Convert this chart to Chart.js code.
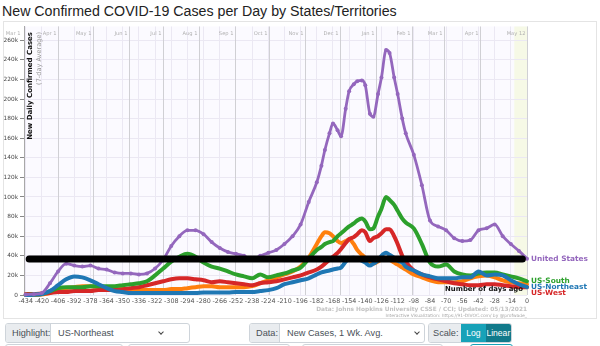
<!DOCTYPE html>
<html><head><meta charset="utf-8">
<script src="https://cdn.jsdelivr.net/npm/chart.js@4.4.1/dist/chart.umd.min.js"></script>
<style>
html,body{margin:0;padding:0;background:#fff;width:600px;height:346px;overflow:hidden;font-family:"Liberation Sans",Arial,sans-serif;}
#title{position:absolute;left:2px;top:4px;font-size:14.2px;line-height:14.2px;color:#222;white-space:nowrap;}
#box{position:absolute;left:3px;top:21px;width:594px;height:298px;border:1px solid #e4e4e4;box-sizing:border-box;}
#wrap{position:absolute;left:0;top:21px;width:600px;height:298px;}
.grp{position:absolute;top:323px;height:20px;border:1px solid #ced4da;border-radius:3px;display:flex;font-size:9.2px;color:#495057;overflow:hidden;box-sizing:border-box;background:#fff;}
.lbl{background:#e9ecef;border-right:1px solid #ced4da;line-height:18px;padding-left:6px;box-sizing:border-box;white-space:nowrap;}
.sel{position:relative;flex:1;line-height:18px;padding-left:7px;white-space:nowrap;}
.chev{position:absolute;top:6px;width:3px;height:3px;border-right:1px solid #444;border-bottom:1px solid #444;transform:rotate(45deg);}
.btn{line-height:18px;color:#fff;text-align:center;box-sizing:border-box;font-size:8.6px;}
.row2{position:absolute;top:344px;height:20px;border:1px solid #ced4da;border-radius:3px;box-sizing:border-box;}
</style></head>
<body>
<div id="title">New Confirmed COVID-19 Cases per Day by States/Territories</div>
<div id="box"></div>
<div id="wrap"><canvas id="c" width="600" height="298"></canvas></div>

<div class="grp" style="left:5px;width:185px;">
  <div class="lbl" style="width:45px">Highlight:</div>
  <div class="sel">US-Northeast<span class="chev" style="right:26px"></span></div>
</div>
<div class="grp" style="left:249px;width:176px;">
  <div class="lbl" style="width:30px">Data:</div>
  <div class="sel">New Cases, 1 Wk. Avg.<span class="chev" style="right:5px"></span></div>
</div>
<div class="grp" style="left:428px;width:84px;">
  <div class="lbl" style="width:33px;border-right:none;padding-left:4px">Scale:</div>
  <div class="btn" style="width:25px;background:#17a2b8">Log</div>
  <div class="btn" style="width:26px;background:#117a8b">Linear</div>
</div>
<div class="row2" style="left:5px;width:118px"></div>
<div class="row2" style="left:128px;width:162px"></div>
<div class="row2" style="left:302px;width:141px"></div>
<div class="row2" style="left:470px;width:43px;border-color:#17a2b8"></div>

<script>
// Days before 05/12/2021 (0 = most recent day)
const days = [-434,-427,-420,-413,-406,-399,-392,-385,-378,-371,-364,-357,-350,-343,-336,-329,-322,-315,-308,-301,-294,-287,-280,-273,-266,-259,-252,-245,-238,-231,-224,-217,-210,-203,-196,-189,-182,
  -178,-175,-171,-168,-164,-161,-157,-154,-150,-147,-143,-140,-136,-133,-129,-126,-122,-119,-115,-112,-108,-105,
  -98,-91,-84,-77,-70,-63,-56,-49,-42,-35,-28,-21,-14,-7,0];

// New cases per day, 7-day average, in thousands
const unitedStates = [0.5,0.8,2,12,24,32,30,29,30,27,26,23,22,22,21,22,27,36,50,60,66,66,62,54,48,44,42,40,36,40,43,46,52,60,72,95,115,
  132,148,165,175,168,162,190,208,215,218,219,214,185,182,205,222,250,247,222,205,180,165,
  143,112,76,70,66,58,55,56,66,68,72,60,52,45,37];
const usSouth = [0.3,0.5,1,4,7,8,8,8,9,9,9,9,10,11,12,14,20,27,34,39,42,39,33,29,27,24,21,19,17,21,18,20,22,25,28,37,46,
  49,52,54,55,60,63,67,70,73,76,78,75,67,68,80,88,100,97,92,86,78,74,
  68,52,33,29,31,24,21,20,22,23,23,21,19,17,14];
const usNortheast = [0,0.3,1,4,10,16,19,18,15,11,7,4,3,2,2,2,2,2,2,2,2,2,2.5,2.5,2.5,2.5,3,3,3,4,5,7,11,13,15,17,21,
  23,24,25,26,27,28,34,37,38,37,35,33,30,32,35,40,43,41,38,35,33,29,
  25,21,19,17,17,17,18,18,24,20,21,20,15,11,8];
const usWest = [1,1,1.5,2,3,3,4,4,4,5,5,5,6,7,8,10,12,14,16,17,17,16,15,13,14,13,12,11,10,12,13,14,16,18,20,23,26,
  29,32,36,39,43,47,53,57,59,62,66,64,55,58,60,63,67,67,60,52,40,34,
  25,21,18,16,14,12,11,10,10,11,11,10,9,8,8];
const usMidwest = [0,0,0.5,2,5,7,8,9,9,8,7,7,6,6,5,5,5,5,6,6,7,8,9,9,8,8,8,8,9,12,15,18,21,24,29,38,52,
  60,64,63,60,55,53,55,57,52,46,41,38,34,32,34,37,38,36,33,31,28,26,
  21,18,15,13,13,13,14,17,19,20,18,15,13,12,11];

// Horizontal marker line
const markerDays = [-431, -4];
const markerValues = [36.8, 36.8];

// Axis ticks / labels
const xTicks = [-434,-420,-406,-392,-378,-364,-350,-336,-322,-308,-294,-280,-266,-252,-238,-224,-210,-196,-182,-168,-154,-140,-126,-112,-98,-84,-70,-56,-42,-28,-14,0];
const yTicks = [0,20,40,60,80,100,120,140,160,180,200,220,240,260];
const monthDays = [-437,-406,-376,-345,-315,-284,-253,-223,-192,-162,-131,-100,-72,-41,0];
const monthLabels = ['Mar 1','Apr 1','May 1','Jun 1','Jul 1','Aug 1','Sep 1','Oct 1','Nov 1','Dec 1','Jan 1','Feb 1','Mar 1','Apr 1','May 12'];
const incompleteDays = [-11, 0];

const seriesNames = ['United States','US-South','US-Northeast','US-West'];
const seriesColors = {'United States':'#9467bd','US-South':'#2ca02c','US-Northeast':'#1f77b4','US-West':'#d62728','US-Midwest':'#ff7f0e'};

// fit title width
(function(){
  const t=document.getElementById('title');
  const c=document.createElement('canvas').getContext('2d');
  c.font='100px "Liberation Sans"';
  const w=c.measureText(t.textContent).width;
  const fs=100*395/w;
  t.style.fontSize=fs+'px';t.style.lineHeight=fs+'px';
  t.style.top=(16.5-fs*0.85)+'px';
})();

const pts = (xs, ys) => xs.map((d,i)=>({x:d,y:ys[i]}));
const FAM = '"DejaVu Sans"';
function fitSize(ctx, text, weight, width){
  ctx.font = weight+' 100px '+FAM;
  return 100*width/ctx.measureText(text).width;
}

const deco = {
  id:'deco',
  beforeDraw(chart){
    const {ctx, chartArea:a, scales:{x}} = chart;
    ctx.save();
    ctx.fillStyle='#fbfaff';
    ctx.fillRect(a.left,a.top,a.right-a.left,a.bottom-a.top);
    const x0=x.getPixelForValue(incompleteDays[0]), x1=x.getPixelForValue(incompleteDays[1]);
    ctx.fillStyle='#f6f9e6';
    ctx.fillRect(x0,a.top,x1-x0,a.bottom-a.top);
    ctx.restore();
  },
  beforeDatasetsDraw(chart){
    const {ctx, chartArea:a, scales:{x}} = chart;
    ctx.save();
    const fs = fitSize(ctx,'Aug 1','normal',15);
    ctx.font = 'normal '+fs+'px '+FAM;
    ctx.textAlign='right'; ctx.textBaseline='middle';
    monthDays.forEach((d,i)=>{
      const px = Math.round(x.getPixelForValue(d))+0.5;
      if(px>=a.left-1){
        ctx.strokeStyle='#d0d0d4'; ctx.lineWidth=1;
        ctx.beginPath(); ctx.moveTo(px,a.top); ctx.lineTo(px,a.bottom); ctx.stroke();
      }
      ctx.fillStyle='#b0b0b0';
      ctx.fillText(monthLabels[i], px-2, a.top+7);
    });
    ctx.restore();
  },
  afterDatasetsDraw(chart){
    const {ctx, chartArea:a, scales:{x,y}} = chart;
    ctx.save();
    // y-axis title inside plot
    let fs = fitSize(ctx,'New Daily Confirmed Cases','bold',108);
    ctx.translate(30, 11); ctx.rotate(-Math.PI/2);
    ctx.font='bold '+fs+'px '+FAM; ctx.fillStyle='#111';
    ctx.textAlign='right'; ctx.textBaseline='middle';
    ctx.fillText('New Daily Confirmed Cases',0,0);
    fs = fitSize(ctx,'(7-day Average)','normal',53);
    ctx.font='normal '+fs+'px '+FAM; ctx.fillStyle='#999';
    ctx.fillText('(7-day Average)',0,9.5);
    ctx.restore();

    ctx.save();
    // end labels
    const finals = [unitedStates, usSouth, usNortheast, usWest].map((arr,i)=>({t:seriesNames[i], py:y.getPixelForValue(arr[arr.length-1])}));
    finals.sort((p,q)=>p.py-q.py);
    for(let i=1;i<finals.length;i++){ if(finals[i].py<finals[i-1].py+5.8) finals[i].py=finals[i-1].py+5.8; }
    fs = fitSize(ctx,'United States','bold',57);
    ctx.font='bold '+fs+'px '+FAM; ctx.textAlign='left'; ctx.textBaseline='middle';
    finals.forEach(f=>{ ctx.fillStyle=seriesColors[f.t]; ctx.fillText(f.t, a.right+4, f.py); });

    // axis caption
    fs = fitSize(ctx,'Number of days ago','bold',78);
    ctx.font='bold '+fs+'px '+FAM; ctx.fillStyle='#111'; ctx.textAlign='right';
    ctx.fillText('Number of days ago', a.right-4, a.bottom-6);

    // footer
    fs = fitSize(ctx,'Data: Johns Hopkins University CSSE / CCI; Updated: 05/13/2021','bold',211);
    ctx.font='bold '+fs+'px '+FAM; ctx.fillStyle='#c2c2c2';
    ctx.fillText('Data: Johns Hopkins University CSSE / CCI; Updated: 05/13/2021', a.right, 288);
    fs = fitSize(ctx,'Interactive Visualization: https://91-DIVOC.com/ by @profwade_','normal',142);
    ctx.font='normal '+fs+'px '+FAM; ctx.fillStyle='#a8a8a8';
    ctx.fillText('Interactive Visualization: https://91-DIVOC.com/ by @profwade_', a.right, 295);
    ctx.restore();
  }
};

const stateLine = (name, data) => ({
  label:name, data:pts(days,data), borderColor:seriesColors[name], backgroundColor:seriesColors[name],
  borderWidth:4, pointRadius:0, borderJoinStyle:'round', borderCapStyle:'round', cubicInterpolationMode:'monotone', clip:false
});

new Chart(document.getElementById('c'), {
  type:'line',
  data:{datasets:[
    {label:'marker', data:pts(markerDays,markerValues), borderColor:'#000', borderWidth:7, pointRadius:0, borderCapStyle:'round', clip:false},
    {label:'United States', data:pts(days,unitedStates), borderColor:'#9467bd', backgroundColor:'#9467bd', borderWidth:2.8,
      pointRadius:2, pointBorderWidth:0, pointBackgroundColor:'#9467bd', cubicInterpolationMode:'monotone', clip:false},
    stateLine('US-Northeast', usNortheast),
    stateLine('US-South', usSouth),
    stateLine('US-West', usWest),
    stateLine('US-Midwest', usMidwest)
  ]},
  options:{
    responsive:false, animation:false, devicePixelRatio:1,
    layout:{padding:{left:0,right:73,top:1,bottom:0}},
    plugins:{legend:{display:false}, tooltip:{enabled:false}},
    scales:{
      x:{type:'linear', min:-435.5, max:0,
        afterBuildTicks:s=>{s.ticks=xTicks.map(v=>({value:v}));},
        afterFit:s=>{s.height=24;},
        ticks:{autoSkip:false,maxRotation:0,padding:3,color:'#555',font:{family:'DejaVu Sans',size:6.4},callback:v=>String(v)},
        grid:{color:'#ebe8f3',drawTicks:false}, border:{display:false}},
      y:{type:'linear', min:0, max:274,
        afterBuildTicks:s=>{s.ticks=yTicks.map(v=>({value:v}));},
        afterFit:s=>{s.width=24;},
        ticks:{padding:2,color:'#444',font:{family:'DejaVu Sans',size:5.8},callback:v=>v===0?'0':v+'k'},
        grid:{color:'#ebe8f3',tickLength:4,tickColor:'#888'}, border:{display:true,color:'#a8a8a8',width:1}}
    }
  },
  plugins:[deco]
});
</script>
</body></html>
